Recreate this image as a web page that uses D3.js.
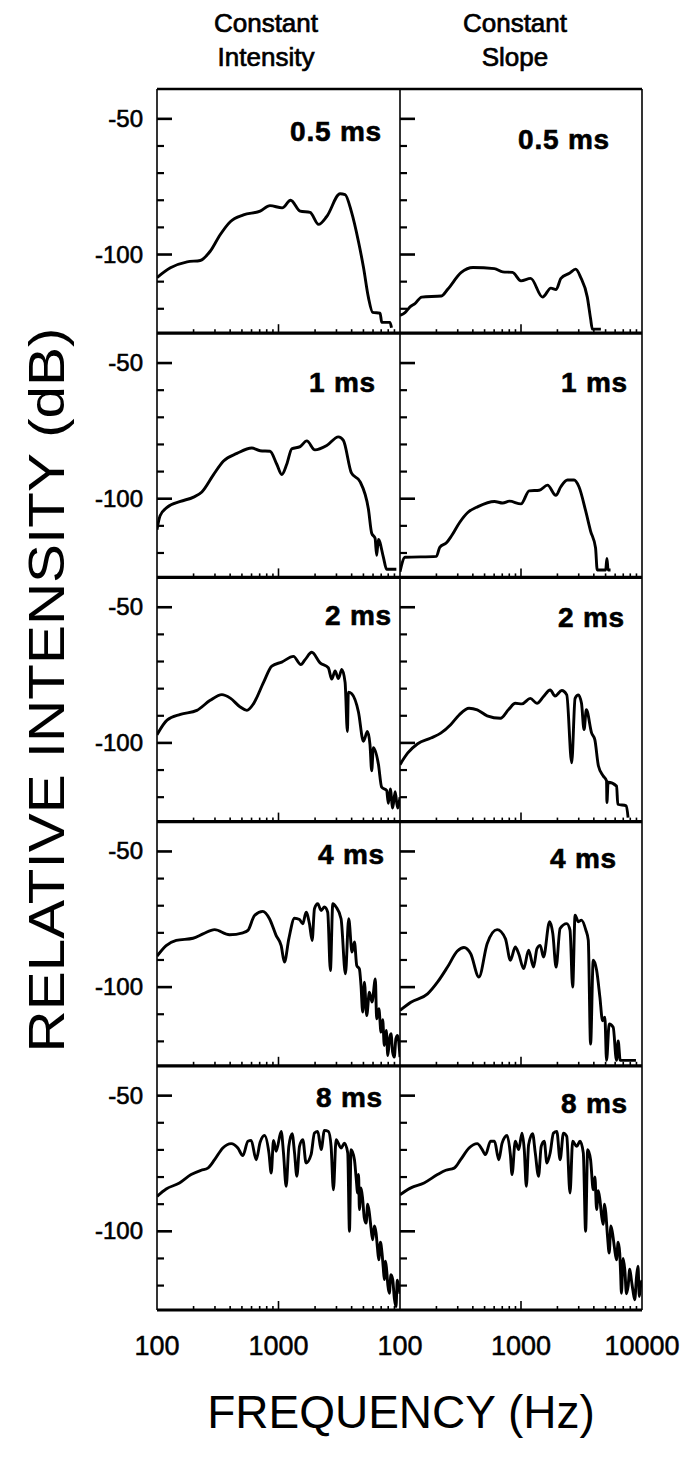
<!DOCTYPE html>
<html><head><meta charset="utf-8">
<script src="https://cdn.jsdelivr.net/npm/d3@7"></script>
<style>body{margin:0;background:#fff}svg{display:block}</style>
</head><body><svg id="c" width="693" height="1459"></svg>
<script>
// ---------- data ----------
const durations = ["0.5 ms", "1 ms", "2 ms", "4 ms", "8 ms"];
const columnTitles = [["Constant", "Intensity"], ["Constant", "Slope"]];
const yMajorTicks = [-50, -100];
const yMinorTicks = [-60, -70, -80, -90, -110, -120];
const xTickLabels = [100, 1000, 10000];
const xMinorTicks = [200, 300, 400, 500, 600, 700, 800, 900, 2000, 3000, 4000, 5000, 6000, 7000, 8000, 9000];

// Constant Intensity
const ci05_f = [100,129,177,227,274,331,401,515,706,851,1072,1259,1507,1820,2138,2495,3214,3532,3981,4550,5012,5495,5957,6855,7079,8279,8511];
const ci05_db = [-108.5,-104.9,-102.7,-102.2,-98.8,-92.7,-87.9,-85.4,-84,-82,-82.8,-80,-84,-84.5,-88.9,-86,-77.6,-77.9,-84.2,-95.2,-104.9,-115.8,-121.3,-121.6,-125,-125,-127];
const ci1_f = [100,106,121,156,200,234,292,353,455,603,706,851,968,1064,1169,1288,1507,1710,1995,2495,3112,3420,3981,4688,5495,5848,6237,6427,6637,7295,7762,9333];
const ci1_db = [-111.4,-106.3,-103.2,-101,-99.4,-97.5,-91.1,-86.1,-83.3,-81.3,-82.3,-82.5,-87.3,-91.1,-87.3,-81.6,-80.8,-78.7,-82,-80.4,-77.2,-78.5,-90.5,-93.7,-103.8,-112.7,-114.6,-120.9,-115,-121.5,-126,-126];
const ci2_f = [100,121,156,213,274,342,401,484,550,624,753,881,1064,1327,1528,1656,1879,2198,2570,2742,2924,3112,3319,3532,3690,3758,4009,4550,5000,5395,5662,5848,6039,6637,7063,7762,8017,8318,8710,9120,9550,10000];
const ci2_db = [-97,-91.6,-89.5,-88,-84.3,-82.2,-83.5,-86.75,-88,-85.5,-77.7,-71.7,-70.2,-68.1,-71.1,-69.3,-66.6,-70.5,-72.3,-76.5,-73.5,-76.3,-72.9,-77.7,-95.8,-81.3,-81.9,-88.6,-99.4,-95.8,-100.6,-110.25,-101.8,-107.8,-116.3,-117.5,-122.3,-117,-124,-118,-124,-120];
const ci4_f = [100,119,144,198,239,298,395,509,560,635,743,843,957,1052,1119,1216,1355,1489,1585,1687,1799,1892,1977,2104,2244,2388,2541,2673,2799,2979,3273,3556,3784,4027,4217,4406,4634,4775,4932,5093,5321,5598,5888,6266,6427,6700,6982,7200,7430,7700,7943,8200,8433,8700,8974,9250,9550,10000];
const ci4_db = [-88.6,-84.7,-82.8,-82,-80.4,-78.8,-80.7,-80,-79.1,-73.6,-72.1,-74.8,-81,-84.7,-90.8,-82.2,-74.6,-75.1,-76.7,-72.4,-76.7,-82.8,-71.1,-69.3,-71.75,-70.5,-72.4,-93.9,-69.3,-70.5,-74.8,-95.1,-74.8,-87.1,-83.4,-92,-93.3,-99.4,-109.2,-98.2,-110.5,-101.9,-105.5,-97,-111.7,-108,-116.6,-112,-121.5,-116,-125.2,-119,-117.2,-124,-125.8,-119,-117.8,-125.8];
const ci8_f = [100,119,153,191,231,262,298,348,408,463,509,560,596,655,706,767,834,871,910,957,1052,1099,1156,1216,1294,1355,1416,1489,1585,1687,1854,1977,2104,2244,2388,2576,2710,2831,2979,3273,3491,3715,3837,3954,4217,4350,4487,4560,4634,4780,4932,5080,5260,5420,5598,5780,5957,6150,6353,6520,6683,6900,7112,7270,7430,7600,7762,7950,8166,8430,8710,9000,9268,9500,9772,10000];
const ci8_db = [-87.1,-84.4,-82.2,-79.1,-77.5,-76.7,-73.6,-69.3,-67.7,-69.3,-72.1,-66.8,-66.5,-73.6,-67.2,-64.7,-71.1,-78.5,-66.5,-70.5,-63.2,-71.1,-83.4,-68.7,-64,-71.1,-79.7,-68.7,-66.2,-74.8,-71.75,-63.8,-63.2,-69.9,-62.8,-63.2,-68.7,-84.7,-66.2,-69.3,-67.5,-71.1,-100,-69.9,-73.6,-80,-85.9,-79,-92,-84,-88.3,-95,-97,-90,-93.3,-99,-103.1,-98,-100.6,-106,-110.5,-104,-108,-113,-117.8,-111,-114.2,-120,-122.8,-116,-117.8,-125,-127.7,-118,-120.3,-123];

// Constant Slope
const cs05_f = [100,110,121,133,151,220,249,321,401,603,706,851,1000,1202,1507,1766,1950,2138,2512,2831,3112,3532,3758,3890,4571];
const cs05_db = [-122.4,-121.4,-119.3,-118.1,-115.7,-115.3,-112.7,-106.6,-104.8,-105.2,-106.4,-106.6,-109.7,-108.8,-115.7,-112.4,-112.9,-108.8,-106.9,-105.4,-108.4,-115.7,-123.6,-127.5,-127.5];
const cs1_f = [100,110,200,213,242,266,311,365,441,603,706,802,1000,1169,1416,1656,1941,2133,2421,2742,3013,3420,3758,4130,4266,5012,5129,5248,5495];
const cs1_db = [-126.9,-121.6,-121.25,-117.9,-116.25,-113.75,-108.75,-105,-102.9,-101,-101.6,-100.9,-101.9,-97.1,-96.9,-95,-98.75,-95.6,-93.1,-93.1,-95.6,-104.4,-111.9,-118.1,-126.25,-126.25,-122,-126.25,-126.25];
const cs2_f = [100,116,140,180,217,262,308,372,435,525,676,793,897,1019,1194,1355,1535,1742,1914,2173,2388,2624,2799,2979,3162,3319,3467,3837,4074,4365,4786,5093,5129,5248,6166,6310,7413,7674];
const cs2_db = [-108,-103.7,-100.3,-98.2,-96.4,-93.3,-89.7,-87.2,-87.8,-90,-90.9,-87.6,-85.4,-85.6,-83.6,-85.4,-82.9,-80.5,-82.7,-80.7,-82.3,-107.3,-83.55,-82.3,-85.4,-95.1,-87.8,-96.4,-98.8,-108.5,-112.2,-114,-122,-114.5,-115.9,-122.6,-123.2,-127.5];
const cs4_f = [100,123,169,204,247,298,338,384,449,525,635,743,817,897,957,1052,1156,1271,1355,1442,1535,1722,1832,1950,2104,2388,2541,2673,2799,2979,3162,3436,3597,3758,3954,4217,4487,4721,4932,5093,5358,5781,6152,6353,6607,8913];
const cs4_db = [-108.6,-105.6,-102.5,-98.2,-92.6,-86.7,-85.4,-87.7,-96.3,-84,-78.8,-82.1,-90.1,-85.2,-87.7,-93.2,-86.4,-92.6,-85.8,-84.6,-88.9,-75.9,-80.3,-92.6,-78.4,-76.6,-79,-100,-73.5,-75.9,-75.3,-79,-82.7,-121,-90.1,-93.8,-103.7,-112.4,-111.1,-127,-113.6,-114.8,-127,-119.8,-127,-127];
const cs8_f = [100,123,158,204,239,280,317,372,435,478,509,560,604,655,698,767,817,843,897,957,1019,1064,1107,1156,1247,1312,1396,1469,1556,1637,1742,1854,1977,2104,2244,2388,2541,2673,2884,3076,3273,3420,3556,3758,3954,4080,4217,4350,4487,4630,4775,4900,5023,5190,5358,5530,5702,5920,6152,6350,6546,6650,6761,6980,7211,7440,7674,7920,8166,8430,8710,9000,9268,9500,9727,10000];
const cs8_db = [-86.5,-84,-82.2,-79.1,-77.5,-76.7,-73.6,-69.3,-67.7,-69.9,-71.75,-66.8,-66.8,-73.6,-67.5,-64.7,-71.75,-79.1,-66.8,-69.9,-63.8,-69.9,-83.4,-68.1,-64,-71.1,-79.7,-68.7,-66.8,-74.8,-71.1,-63.8,-63.2,-73.6,-63.8,-65,-85.9,-66.8,-68.7,-66.8,-71.1,-100,-69.9,-73.6,-84.7,-80,-92,-85,-88.3,-94,-97.4,-90,-93.3,-102,-108,-98,-100.6,-106,-110.5,-104,-108,-115,-122.8,-110,-114.2,-123,-120.3,-114,-117.8,-122,-125.2,-117,-112.9,-124,-120.3,-118];

const seriesGrid = [
  [[ci05_f, ci05_db], [cs05_f, cs05_db]],
  [[ci1_f, ci1_db], [cs1_f, cs1_db]],
  [[ci2_f, ci2_db], [cs2_f, cs2_db]],
  [[ci4_f, ci4_db], [cs4_f, cs4_db]],
  [[ci8_f, ci8_db], [cs8_f, cs8_db]]
];

// ---------- layout ----------
const svg = d3.select("#c");
const colX = [157, 400, 642];
const gridTop = 89, gridBottom = 1310;
const rowH = (gridBottom - gridTop) / 5;
const font = "'Liberation Sans', Arial, Helvetica, sans-serif";

const labelPos = [ // [xRight, baselineOffset] per row/col
  [[382, 52], [610, 60]],
  [[376, 59], [628, 59]],
  [[392, 48], [625, 50]],
  [[385, 42], [617, 46]],
  [[383, 41], [628, 47]]
];

const defs = svg.append("defs");

for (let r = 0; r < 5; r++) {
  const top = gridTop + r * rowH, bottom = top + rowH;
  const y = d3.scaleLinear().domain([-39, -129]).range([top, bottom]);
  for (let c = 0; c < 2; c++) {
    const x0 = colX[c], x1 = colX[c + 1];
    const x = d3.scaleLog().domain([100, 10000]).range([x0, x1]);
    const g = svg.append("g");
    const clipId = `clip${r}${c}`;
    defs.append("clipPath").attr("id", clipId).append("rect")
      .attr("x", x0).attr("y", top).attr("width", x1 - x0).attr("height", rowH);

    // y ticks (inward)
    g.selectAll(".ymaj").data(yMajorTicks).join("line")
      .attr("x1", x0).attr("x2", x0 + 15).attr("y1", d => y(d)).attr("y2", d => y(d))
      .attr("stroke", "#000").attr("stroke-width", 2.6);
    g.selectAll(".ymin").data(yMinorTicks).join("line")
      .attr("x1", x0).attr("x2", x0 + 7).attr("y1", d => y(d)).attr("y2", d => y(d))
      .attr("stroke", "#000").attr("stroke-width", 2.2);

    // x ticks (upward from bottom)
    g.selectAll(".xmin").data(xMinorTicks).join("line")
      .attr("x1", d => x(d)).attr("x2", d => x(d)).attr("y1", bottom).attr("y2", bottom - 4)
      .attr("stroke", "#000").attr("stroke-width", 1.6);
    g.append("line").attr("x1", x(1000)).attr("x2", x(1000)).attr("y1", bottom).attr("y2", bottom - 9)
      .attr("stroke", "#000").attr("stroke-width", 1.6);

    // curve
    const [fs, dbs] = seriesGrid[r][c];
    const pts = fs.map((f, i) => [f, dbs[i]]);
    const line = d3.line().x(d => x(d[0])).y(d => y(d[1])).curve(d3.curveMonotoneX);
    g.append("path").attr("d", line(pts)).attr("fill", "none").attr("stroke", "#000")
      .attr("stroke-width", 2.9).attr("stroke-linejoin", "round").attr("clip-path", `url(#${clipId})`);

    // duration label
    const [lx, lb] = labelPos[r][c];
    g.append("text").attr("x", lx).attr("y", top + lb).attr("text-anchor", "end")
      .attr("font-family", font).attr("font-weight", "bold").attr("font-size", 28)
      .attr("letter-spacing", 0.8).attr("stroke", "#000").attr("stroke-width", 0.6)
      .text(durations[r]);

    // y tick labels on left column
    if (c === 0) {
      g.selectAll(".ylab").data(yMajorTicks).join("text")
        .attr("x", 143).attr("y", d => y(d) + 8).attr("text-anchor", "end")
        .attr("font-family", font).attr("font-size", 24)
        .attr("stroke", "#000").attr("stroke-width", 0.6).text(d => d);
    }
  }
  // horizontal panel separator (bottom of row)
  svg.append("line").attr("x1", colX[0]).attr("x2", colX[2]).attr("y1", bottom).attr("y2", bottom)
    .attr("stroke", "#000").attr("stroke-width", 3.2);
}

// frame: top and vertical lines
svg.append("line").attr("x1", colX[0]).attr("x2", colX[2]).attr("y1", gridTop).attr("y2", gridTop)
  .attr("stroke", "#000").attr("stroke-width", 2.4);
colX.forEach(xx => {
  svg.append("line").attr("x1", xx).attr("x2", xx).attr("y1", gridTop).attr("y2", gridBottom)
    .attr("stroke", "#000").attr("stroke-width", 1.6);
});

// x tick labels
for (let c = 0; c < 2; c++) {
  const x = d3.scaleLog().domain([100, 10000]).range([colX[c], colX[c + 1]]);
  const labs = c === 0 ? xTickLabels.slice(0, 2) : xTickLabels;
  svg.selectAll(null).data(labs).join("text")
    .attr("x", d => x(d)).attr("y", 1355).attr("text-anchor", "middle")
    .attr("font-family", font).attr("font-size", 27)
    .attr("stroke", "#000").attr("stroke-width", 0.5).text(d => d);
}

// column titles
const titleX = [266, 515];
columnTitles.forEach((t, i) => {
  t.forEach((s, j) => {
    svg.append("text").attr("x", titleX[i]).attr("y", 32 + j * 34).attr("text-anchor", "middle")
      .attr("font-family", font).attr("font-size", 26)
      .attr("stroke", "#000").attr("stroke-width", 0.7).text(s);
  });
});

// axis titles
svg.append("text").attr("transform", "translate(64,690) rotate(-90)").attr("text-anchor", "middle")
  .attr("font-family", font).attr("font-size", 50)
  .attr("textLength", 725).attr("lengthAdjust", "spacingAndGlyphs")
  .text("RELATIVE INTENSITY (dB)");
svg.append("text").attr("x", 401).attr("y", 1428).attr("text-anchor", "middle")
  .attr("font-family", font).attr("font-size", 46).text("FREQUENCY (Hz)");
</script></body></html>
